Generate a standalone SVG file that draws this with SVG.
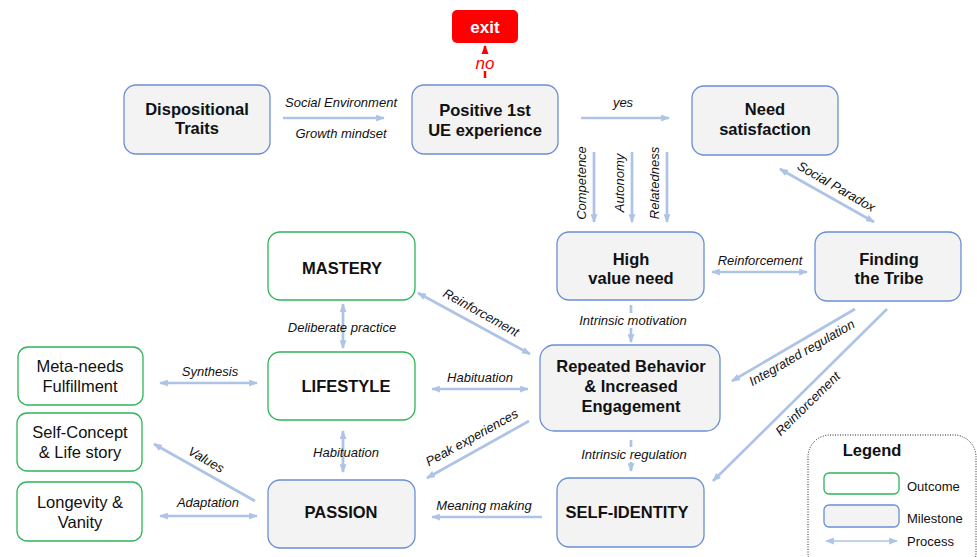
<svg xmlns="http://www.w3.org/2000/svg" width="977" height="557" viewBox="0 0 977 557">
  <defs>
    <style>
      .ms { fill: #f3f3f3; stroke: #6a8fd4; stroke-width: 1.3; }
      .oc { fill: #ffffff; stroke: #2fb457; stroke-width: 1.3; }
      .t { font-family: "Liberation Sans", Arial, sans-serif; font-size: 16.5px; font-weight: bold; fill: #111; text-anchor: middle; }
      .tr { font-family: "Liberation Sans", Arial, sans-serif; font-size: 16.5px; fill: #111; text-anchor: middle; }
      .lb { font-family: "Liberation Sans", Arial, sans-serif; font-size: 13px; font-style: italic; fill: #111; text-anchor: middle; }
      .lg { font-family: "Liberation Sans", Arial, sans-serif; font-size: 13px; fill: #111; }
      .c { stroke: #aec4e7; stroke-width: 2.7; fill: none; }
      .bg { fill: #ffffff; }
    </style>
    <marker id="ah" viewBox="0 0 10 8" markerUnits="userSpaceOnUse" markerWidth="9" markerHeight="7" refX="9" refY="4" orient="auto-start-reverse">
      <path d="M0,0 L10,4 L0,8 z" fill="#aec4e7"/>
    </marker>
    <marker id="ahr" viewBox="0 0 10 8" markerUnits="userSpaceOnUse" markerWidth="9" markerHeight="8" refX="9" refY="4" orient="auto">
      <path d="M0,0 L10,4 L0,8 z" fill="#ff0000"/>
    </marker>
  </defs>

  <!-- connectors -->
  <g id="connectors">
    <line class="c" x1="283" y1="118" x2="384" y2="118" marker-end="url(#ah)"/>
    <line class="c" x1="581" y1="118" x2="669" y2="118" marker-end="url(#ah)"/>
    <line class="c" x1="594" y1="152" x2="594" y2="222" marker-end="url(#ah)"/>
    <line class="c" x1="632" y1="152" x2="632" y2="222" marker-end="url(#ah)"/>
    <line class="c" x1="667" y1="152" x2="667" y2="222" marker-end="url(#ah)"/>
    <line class="c" x1="780" y1="169" x2="874" y2="222" marker-start="url(#ah)" marker-end="url(#ah)"/>
    <line class="c" x1="712" y1="272" x2="807" y2="272" marker-start="url(#ah)" marker-end="url(#ah)"/>
    <line class="c" x1="631" y1="305" x2="631" y2="342" marker-end="url(#ah)"/>
    <line class="c" x1="418" y1="293" x2="530" y2="354" marker-start="url(#ah)" marker-end="url(#ah)"/>
    <line class="c" x1="432" y1="389" x2="528" y2="389" marker-start="url(#ah)" marker-end="url(#ah)"/>
    <line class="c" x1="529" y1="421" x2="427" y2="478" marker-end="url(#ah)"/>
    <line class="c" x1="631" y1="440" x2="631" y2="471" marker-end="url(#ah)"/>
    <line class="c" x1="542" y1="517" x2="432" y2="517" marker-end="url(#ah)"/>
    <line class="c" x1="855" y1="309" x2="732" y2="381" marker-end="url(#ah)"/>
    <line class="c" x1="887" y1="309" x2="713" y2="481" marker-end="url(#ah)"/>
    <line class="c" x1="343" y1="304" x2="343" y2="348" marker-start="url(#ah)" marker-end="url(#ah)"/>
    <line class="c" x1="343" y1="431" x2="343" y2="472" marker-start="url(#ah)" marker-end="url(#ah)"/>
    <line class="c" x1="160" y1="383" x2="257" y2="383" marker-start="url(#ah)" marker-end="url(#ah)"/>
    <line class="c" x1="255" y1="501" x2="154" y2="444" marker-end="url(#ah)"/>
    <line class="c" x1="160" y1="516" x2="257" y2="516" marker-start="url(#ah)" marker-end="url(#ah)"/>
    <line x1="485" y1="78" x2="485" y2="46" stroke="#ff0000" stroke-width="2.5" marker-end="url(#ahr)"/>

    <!-- connector labels -->
    <text class="lb" x="341" y="107">Social Environment</text>
    <text class="lb" x="341" y="138">Growth mindset</text>
    <text class="lb" x="623" y="107">yes</text>
    <text class="lb" transform="translate(586,183) rotate(-90)">Competence</text>
    <text class="lb" transform="translate(624,183) rotate(-90)">Autonomy</text>
    <text class="lb" transform="translate(659,183) rotate(-90)">Relatedness</text>
    <text class="lb" transform="translate(836,187) rotate(30)" y="4">Social Paradox</text>
    <text class="lb" x="760" y="265">Reinforcement</text>
    <rect class="bg" x="573" y="313" width="119" height="15"/>
    <text class="lb" x="633" y="325">Intrinsic motivation</text>
    <text class="lb" transform="translate(481,313) rotate(29)" y="4">Reinforcement</text>
    <text class="lb" x="480" y="382">Habituation</text>
    <text class="lb" transform="translate(472,438) rotate(-29)" y="4">Peak experiences</text>
    <rect class="bg" x="576" y="447" width="117" height="15"/>
    <text class="lb" x="634" y="459">Intrinsic regulation</text>
    <text class="lb" x="484" y="510">Meaning making</text>
    <text class="lb" transform="translate(802,353) rotate(-30)" y="4">Integrated regulation</text>
    <text class="lb" transform="translate(808,404) rotate(-44.5)" y="4">Reinforcement</text>
    <text class="lb" x="342" y="332">Deliberate practice</text>
    <text class="lb" x="346" y="457">Habituation</text>
    <text class="lb" x="210" y="376">Synthesis</text>
    <text class="lb" transform="translate(206,460) rotate(30)" y="4">Values</text>
    <text class="lb" x="208" y="507">Adaptation</text>
    <rect class="bg" x="472" y="54" width="26" height="17"/>
    <text x="485" y="69" font-family="Liberation Sans, Arial, sans-serif" font-size="17" font-style="italic" fill="#ff0000" text-anchor="middle">no</text>
  </g>

  <!-- nodes -->
  <g id="exit">
    <rect x="452" y="10" width="66" height="33" rx="5" fill="#ff0000"/>
    <text class="t" x="485" y="33" style="fill:#ffffff;font-size:17px">exit</text>
  </g>
  <g id="dispositional-traits">
    <rect class="ms" x="124" y="85" width="146" height="69" rx="12"/>
    <text class="t" x="197" y="115">Dispositional</text>
    <text class="t" x="197" y="134">Traits</text>
  </g>
  <g id="positive-ue">
    <rect class="ms" x="412" y="85" width="146" height="69" rx="12"/>
    <text class="t" x="485" y="116">Positive 1st</text>
    <text class="t" x="485" y="136">UE experience</text>
  </g>
  <g id="need-satisfaction">
    <rect class="ms" x="692" y="86" width="146" height="69" rx="12"/>
    <text class="t" x="765" y="115">Need</text>
    <text class="t" x="765" y="135">satisfaction</text>
  </g>
  <g id="mastery">
    <rect class="oc" x="268" y="232" width="147" height="68" rx="12"/>
    <text class="t" x="342" y="274">MASTERY</text>
  </g>
  <g id="high-value-need">
    <rect class="ms" x="557" y="232" width="147" height="68" rx="12"/>
    <text class="t" x="631" y="265">High</text>
    <text class="t" x="631" y="284">value need</text>
  </g>
  <g id="finding-the-tribe">
    <rect class="ms" x="815" y="232" width="146" height="69" rx="12"/>
    <text class="t" x="889" y="265">Finding</text>
    <text class="t" x="889" y="284">the Tribe</text>
  </g>
  <g id="lifestyle">
    <rect class="oc" x="268" y="352" width="147" height="68" rx="12"/>
    <text class="t" x="346" y="392">LIFESTYLE</text>
  </g>
  <g id="repeated-behavior">
    <rect class="ms" x="540" y="345" width="180" height="86" rx="14"/>
    <text class="t" x="631" y="372">Repeated Behavior</text>
    <text class="t" x="631" y="392">&amp; Increased</text>
    <text class="t" x="631" y="412">Engagement</text>
  </g>
  <g id="passion">
    <rect class="ms" x="268" y="480" width="147" height="68" rx="12"/>
    <text class="t" x="341" y="518">PASSION</text>
  </g>
  <g id="self-identity">
    <rect class="ms" x="557" y="478" width="147" height="69" rx="12"/>
    <text class="t" x="627" y="518">SELF-IDENTITY</text>
  </g>
  <g id="meta-needs">
    <rect class="oc" x="18" y="347" width="125" height="58" rx="10"/>
    <text class="tr" x="80" y="372">Meta-needs</text>
    <text class="tr" x="80" y="392">Fulfillment</text>
  </g>
  <g id="self-concept">
    <rect class="oc" x="17" y="413" width="125" height="58" rx="10"/>
    <text class="tr" x="80" y="438">Self-Concept</text>
    <text class="tr" x="80" y="458">&amp; Life story</text>
  </g>
  <g id="longevity">
    <rect class="oc" x="17" y="482" width="125" height="59" rx="10"/>
    <text class="tr" x="80" y="508">Longevity &amp;</text>
    <text class="tr" x="80" y="528">Vanity</text>
  </g>

  <!-- legend -->
  <g id="legend">
    <rect x="808" y="435" width="168" height="140" rx="22" fill="#ffffff" stroke="#222" stroke-width="1" stroke-dasharray="1,1.5"/>
    <text class="t" x="872" y="456">Legend</text>
    <rect class="oc" x="824" y="473" width="75" height="21" rx="5"/>
    <text class="lg" x="907" y="491">Outcome</text>
    <rect class="ms" x="824" y="505" width="75" height="22" rx="5"/>
    <text class="lg" x="907" y="523">Milestone</text>
    <line x1="826" y1="541" x2="897" y2="541" stroke="#aec4e7" stroke-width="1.6" marker-start="url(#ah)" marker-end="url(#ah)"/>
    <text class="lg" x="907" y="546">Process</text>
  </g>
</svg>
